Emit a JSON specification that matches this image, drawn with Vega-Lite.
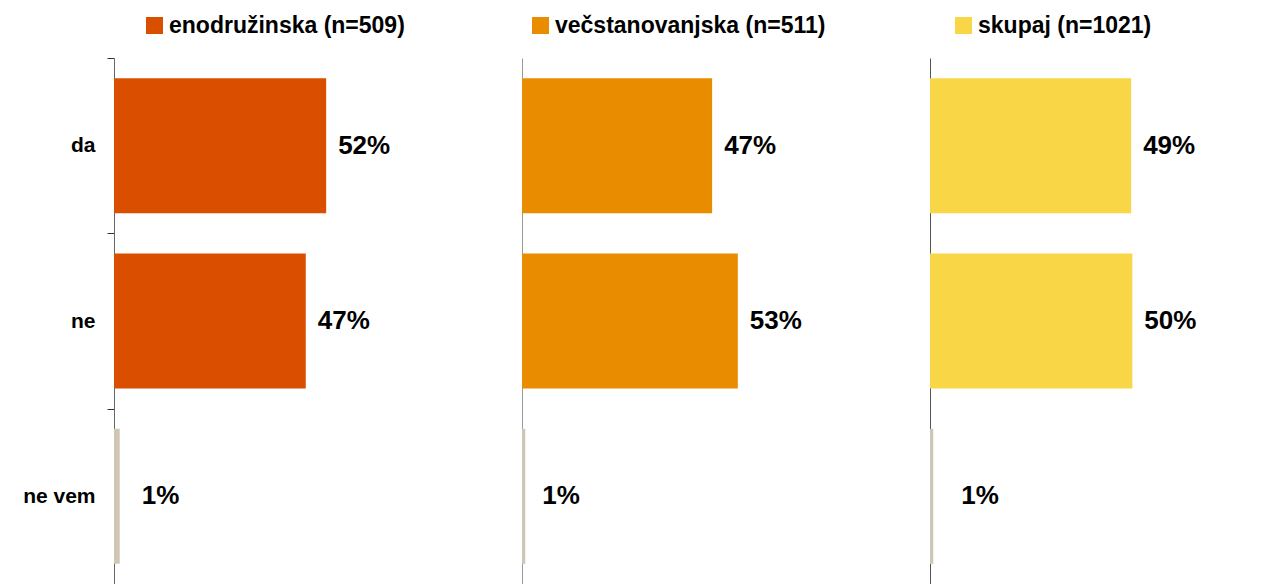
{
  "$schema": "https://vega.github.io/schema/vega-lite/v6.json",
  "padding": {"left": 22, "top": 14, "right": 0, "bottom": 0},
  "background": "white",
  "data": {"values": [
    {"serija": "enodružinska (n=509)", "odg": "da", "vrednost": 52, "oznaka": "52%"},
    {"serija": "enodružinska (n=509)", "odg": "ne", "vrednost": 47, "oznaka": "47%"},
    {"serija": "enodružinska (n=509)", "odg": "ne vem", "vrednost": 1.4, "oznaka": "1%"},
    {"serija": "večstanovanjska (n=511)", "odg": "da", "vrednost": 46.6, "oznaka": "47%"},
    {"serija": "večstanovanjska (n=511)", "odg": "ne", "vrednost": 52.9, "oznaka": "53%"},
    {"serija": "večstanovanjska (n=511)", "odg": "ne vem", "vrednost": 0.8, "oznaka": "1%"},
    {"serija": "skupaj (n=1021)", "odg": "da", "vrednost": 49.3, "oznaka": "49%"},
    {"serija": "skupaj (n=1021)", "odg": "ne", "vrednost": 49.6, "oznaka": "50%"},
    {"serija": "skupaj (n=1021)", "odg": "ne vem", "vrednost": 0.8, "oznaka": "1%"}
  ]},
  "spacing": 0,
  "hconcat": [
    {
      "width": 408, "height": 526,
      "transform": [{"filter": "datum.serija === 'enodružinska (n=509)'"}],
      "encoding": {
        "y": {"field": "odg", "type": "nominal", "sort": ["da", "ne", "ne vem"],
          "scale": {"paddingInner": 0, "paddingOuter": 0},
          "axis": {"title": null, "tickBand": "extent", "tickSize": 7, "tickColor": "#333333", "domainColor": "#666666", "labelFontSize": 21, "labelFontWeight": "bold", "labelColor": "black", "labelPadding": 12}},
        "x": {"field": "vrednost", "type": "quantitative", "scale": {"domain": [0, 100]}, "axis": null}
      },
      "layer": [
        {"mark": {"type": "bar", "height": {"band": 0.77}},
         "encoding": {"color": {"condition": {"test": "datum.odg === 'ne vem'", "value": "#CFC6B5"},
           "field": "serija", "type": "nominal",
           "scale": {"domain": ["enodružinska (n=509)"], "range": ["#DA4E00"]},
           "legend": {"orient": "none", "legendX": 29, "legendY": -44, "title": null, "symbolType": "square", "symbolSize": 289, "symbolStrokeWidth": 0, "symbolOpacity": 1, "labelFontSize": 23, "labelFontWeight": "bold", "labelColor": "black", "labelOffset": 3, "labelLimit": 0, "padding": 0}}}},
        {"transform": [{"filter": "datum.odg !== 'ne vem'"}],
         "mark": {"type": "text", "align": "left", "baseline": "middle", "dx": 12, "fontSize": 26, "fontWeight": "bold", "color": "black"},
         "encoding": {"text": {"field": "oznaka", "type": "nominal"}}},
        {"transform": [{"filter": "datum.odg === 'ne vem'"}],
         "mark": {"type": "text", "align": "left", "baseline": "middle", "dx": 22, "fontSize": 26, "fontWeight": "bold", "color": "black"},
         "encoding": {"text": {"field": "oznaka", "type": "nominal"}}}
      ]
    },
    {
      "width": 408, "height": 526,
      "transform": [{"filter": "datum.serija === 'večstanovanjska (n=511)'"}],
      "encoding": {
        "y": {"field": "odg", "type": "nominal", "sort": ["da", "ne", "ne vem"],
          "scale": {"paddingInner": 0, "paddingOuter": 0},
          "axis": {"title": null, "labels": false, "ticks": false, "domainColor": "#999999"}},
        "x": {"field": "vrednost", "type": "quantitative", "scale": {"domain": [0, 100]}, "axis": null}
      },
      "layer": [
        {"mark": {"type": "bar", "height": {"band": 0.77}},
         "encoding": {"color": {"condition": {"test": "datum.odg === 'ne vem'", "value": "#CFC6B5"},
           "field": "serija", "type": "nominal",
           "scale": {"domain": ["večstanovanjska (n=511)"], "range": ["#EA8C00"]},
           "legend": {"orient": "none", "legendX": 7, "legendY": -44, "title": null, "symbolType": "square", "symbolSize": 289, "symbolStrokeWidth": 0, "symbolOpacity": 1, "labelFontSize": 23, "labelFontWeight": "bold", "labelColor": "black", "labelOffset": 3, "labelLimit": 0, "padding": 0}}}},
        {"transform": [{"filter": "datum.odg !== 'ne vem'"}],
         "mark": {"type": "text", "align": "left", "baseline": "middle", "dx": 12, "fontSize": 26, "fontWeight": "bold", "color": "black"},
         "encoding": {"text": {"field": "oznaka", "type": "nominal"}}},
        {"transform": [{"filter": "datum.odg === 'ne vem'"}],
         "mark": {"type": "text", "align": "left", "baseline": "middle", "dx": 17, "fontSize": 26, "fontWeight": "bold", "color": "black"},
         "encoding": {"text": {"field": "oznaka", "type": "nominal"}}}
      ]
    },
    {
      "width": 408, "height": 526,
      "transform": [{"filter": "datum.serija === 'skupaj (n=1021)'"}],
      "encoding": {
        "y": {"field": "odg", "type": "nominal", "sort": ["da", "ne", "ne vem"],
          "scale": {"paddingInner": 0, "paddingOuter": 0},
          "axis": {"title": null, "labels": false, "ticks": false, "domainColor": "#555555"}},
        "x": {"field": "vrednost", "type": "quantitative", "scale": {"domain": [0, 100]}, "axis": null}
      },
      "layer": [
        {"mark": {"type": "bar", "height": {"band": 0.77}},
         "encoding": {"color": {"condition": {"test": "datum.odg === 'ne vem'", "value": "#CFC6B5"},
           "field": "serija", "type": "nominal",
           "scale": {"domain": ["skupaj (n=1021)"], "range": ["#F9D645"]},
           "legend": {"orient": "none", "legendX": 22, "legendY": -44, "title": null, "symbolType": "square", "symbolSize": 289, "symbolStrokeWidth": 0, "symbolOpacity": 1, "labelFontSize": 23, "labelFontWeight": "bold", "labelColor": "black", "labelOffset": 3, "labelLimit": 0, "padding": 0}}}},
        {"transform": [{"filter": "datum.odg !== 'ne vem'"}],
         "mark": {"type": "text", "align": "left", "baseline": "middle", "dx": 12, "fontSize": 26, "fontWeight": "bold", "color": "black"},
         "encoding": {"text": {"field": "oznaka", "type": "nominal"}}},
        {"transform": [{"filter": "datum.odg === 'ne vem'"}],
         "mark": {"type": "text", "align": "left", "baseline": "middle", "dx": 28, "fontSize": 26, "fontWeight": "bold", "color": "black"},
         "encoding": {"text": {"field": "oznaka", "type": "nominal"}}}
      ]
    }
  ],
  "resolve": {"scale": {"color": "independent", "x": "independent", "y": "independent"}, "legend": {"color": "independent"}},
  "config": {
    "font": "Liberation Sans",
    "view": {"stroke": null},
    "axis": {"grid": false}
  }
}
